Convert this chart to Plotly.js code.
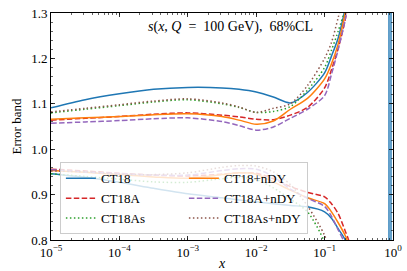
<!DOCTYPE html>
<html>
<head>
<meta charset="utf-8">
<script src="https://cdn.plot.ly/plotly-3.0.1.min.js"></script>
<style>html,body{margin:0;padding:0;background:#fff;}#chart{width:407px;height:271px;}</style>
</head>
<body>
<div id="chart"></div>
<script>
// x grids (momentum fraction)
const xUpper = [1e-5, 3.16e-5, 1e-4, 3.16e-4, 1e-3, 3.16e-3, 5.62e-3, 1e-2, 1.78e-2, 3.16e-2, 5.62e-2, 0.1, 0.126, 0.158, 0.2, 0.224];
const xLower = [1e-5, 3.16e-5, 1e-4, 3.16e-4, 1e-3, 3.16e-3, 5.62e-3, 1e-2, 1.78e-2, 3.16e-2, 5.62e-2, 0.1, 0.126, 0.158, 0.2, 0.224, 0.251];

// upper edges of error bands (ratio to central)
const ct18Up      = [1.091, 1.109, 1.122, 1.132, 1.136, 1.135, 1.132, 1.126, 1.115, 1.102, 1.125, 1.168, 1.205, 1.245, 1.31, 1.35];
const ct18AUp     = [1.064, 1.068, 1.072, 1.077, 1.080, 1.075, 1.071, 1.066, 1.065, 1.075, 1.092, 1.135, 1.175, 1.222, 1.285, 1.33];
const ct18AsUp    = [1.080, 1.088, 1.096, 1.104, 1.109, 1.100, 1.092, 1.081, 1.083, 1.094, 1.130, 1.180, 1.218, 1.260, 1.31, 1.35];
const ct18nUp     = [1.066, 1.069, 1.072, 1.076, 1.078, 1.072, 1.064, 1.055, 1.062, 1.088, 1.112, 1.155, 1.188, 1.232, 1.30, 1.34];
const ct18AnUp    = [1.057, 1.060, 1.063, 1.067, 1.069, 1.061, 1.052, 1.042, 1.049, 1.068, 1.088, 1.118, 1.165, 1.220, 1.285, 1.33];
const ct18AsnUp   = [1.082, 1.090, 1.098, 1.106, 1.111, 1.102, 1.093, 1.081, 1.090, 1.100, 1.140, 1.200, 1.235, 1.290, 1.35, 1.40];

// lower edges of error bands
const ct18Lo      = [0.946, 0.938, 0.927, 0.914, 0.902, 0.893, 0.888, 0.884, 0.880, 0.876, 0.873, 0.862, 0.848, 0.825, 0.800, 0.760, null];
const ct18ALo     = [0.956, 0.952, 0.947, 0.943, 0.941, 0.945, 0.948, 0.947, 0.935, 0.918, 0.905, 0.895, 0.880, 0.858, 0.820, 0.800, 0.760];
const ct18AsLo    = [0.946, 0.940, 0.934, 0.928, 0.927, 0.935, 0.938, 0.933, 0.915, 0.890, 0.862, 0.795, 0.740, null, null, null, null];
const ct18nLo     = [0.953, 0.949, 0.944, 0.939, 0.936, 0.944, 0.948, 0.945, 0.928, 0.910, 0.893, 0.880, 0.862, 0.838, 0.810, 0.790, 0.750];
const ct18AnLo    = [0.955, 0.950, 0.946, 0.943, 0.943, 0.953, 0.957, 0.956, 0.940, 0.912, 0.892, 0.874, 0.852, 0.822, 0.790, 0.750, null];
const ct18AsnLo   = [0.952, 0.950, 0.945, 0.944, 0.948, 0.960, 0.964, 0.963, 0.950, 0.922, 0.875, 0.810, 0.760, null, null, null, null];

// CT18 band passes through a pole near x ~ 0.9 (two near-vertical strokes)
const ct18PoleX = [0.873, 0.874, null, 0.935, 0.936];
const ct18PoleY = [2, 0.5, null, 0.5, 2];

const names = ['CT18', 'CT18A', 'CT18As', 'CT18+nDY', 'CT18A+nDY', 'CT18As+nDY'];
const legendRanks = [1, 3, 5, 2, 4, 6];
const colors = ['#1f77b4', '#d62728', '#2ca02c', '#ff7f0e', '#9467bd', '#8c564b'];
const dashes = ['solid', '5.5px,2.4px', '1.5px,2.5px', 'solid', '5.5px,2.4px', '1.5px,2.5px'];
const ups = [ct18Up, ct18AUp, ct18AsUp, ct18nUp, ct18AnUp, ct18AsnUp];
const los = [ct18Lo, ct18ALo, ct18AsLo, ct18nLo, ct18AnLo, ct18AsnLo];

const traces = names.map((nm, i) => ({
  x: xUpper.concat([null], xLower),
  y: ups[i].concat([null], los[i]),
  name: nm, type: 'scatter', mode: 'lines', legendgroup: nm,
  connectgaps: false, legendrank: legendRanks[i],
  line: {color: colors[i], width: 1.5, dash: dashes[i], shape: 'spline', smoothing: 0.8}
}));
traces.push({
  x: ct18PoleX, y: ct18PoleY, name: 'CT18', legendgroup: 'CT18', showlegend: false,
  type: 'scatter', mode: 'lines', connectgaps: false,
  line: {color: colors[0], width: 1.4, shape: 'linear'}
});

const tickX = [1e-5, 1e-4, 1e-3, 1e-2, 1e-1, 1];
const tickXText = ['10<sup>−5</sup>', '10<sup>−4</sup>', '10<sup>−3</sup>', '10<sup>−2</sup>', '10<sup>−1</sup>', '10<sup>0</sup>'];
const tickY = [0.8, 0.9, 1.0, 1.1, 1.2, 1.3];
const tickYText = ['0.8', '0.9', '1.0', '1.1', '1.2', '1.3'];

const fam = "'Liberation Serif', 'Times New Roman', serif";
const font = {family: fam, size: 13, color: '#000'};

const layout = {
  width: 407, height: 271,
  margin: {l: 51, r: 14, t: 13, b: 31, pad: 0},
  paper_bgcolor: '#fff', plot_bgcolor: '#fff',
  font: font,
  showlegend: true,
  xaxis: {
    type: 'log', range: [-5, 0], showgrid: false, zeroline: false, automargin: false,
    showline: true, linecolor: '#000', linewidth: 1, mirror: 'allticks',
    ticks: 'inside', ticklen: 4, tickcolor: '#000', tickwidth: 0.8,
    tickvals: tickX, ticktext: tickXText, tickfont: {family: fam, size: 13},
    minor: {ticks: 'inside', ticklen: 2, dtick: 'D1', tickcolor: '#000', tickwidth: 0.6, showgrid: false},
    title: {text: '<i>x</i>', font: {family: fam, size: 14}, standoff: 2}
  },
  yaxis: {
    range: [0.8, 1.3], showgrid: false, zeroline: false, automargin: false,
    showline: true, linecolor: '#000', linewidth: 1, mirror: 'allticks',
    ticks: 'inside', ticklen: 4, tickcolor: '#000', tickwidth: 0.8,
    tickvals: tickY, ticktext: tickYText, tickfont: {family: fam, size: 13},
    minor: {ticks: 'inside', ticklen: 2, dtick: 0.02, tickcolor: '#000', tickwidth: 0.6, showgrid: false},
    title: {text: 'Error band', font: {family: fam, size: 13}, standoff: 6}
  },
  legend: {
    orientation: 'h', x: 0.026, xanchor: 'left', y: 0.025, yanchor: 'bottom',
    entrywidth: 78, entrywidthmode: 'pixels',
    bgcolor: 'rgba(255,255,255,0.8)', bordercolor: '#cccccc', borderwidth: 1,
    font: {family: fam, size: 13, color: '#000'},
    traceorder: 'normal'
  },
  annotations: [{
    xref: 'paper', yref: 'paper', x: 0.525, y: 0.938, xanchor: 'center', yanchor: 'middle',
    showarrow: false, font: {family: fam, size: 14},
    text: '<i>s</i>(<i>x</i>, <i>Q</i>  =  100 GeV),  68%CL'
  }]
};

Plotly.newPlot('chart', traces, layout, {staticPlot: true, displayModeBar: false});
</script>
</body>
</html>
